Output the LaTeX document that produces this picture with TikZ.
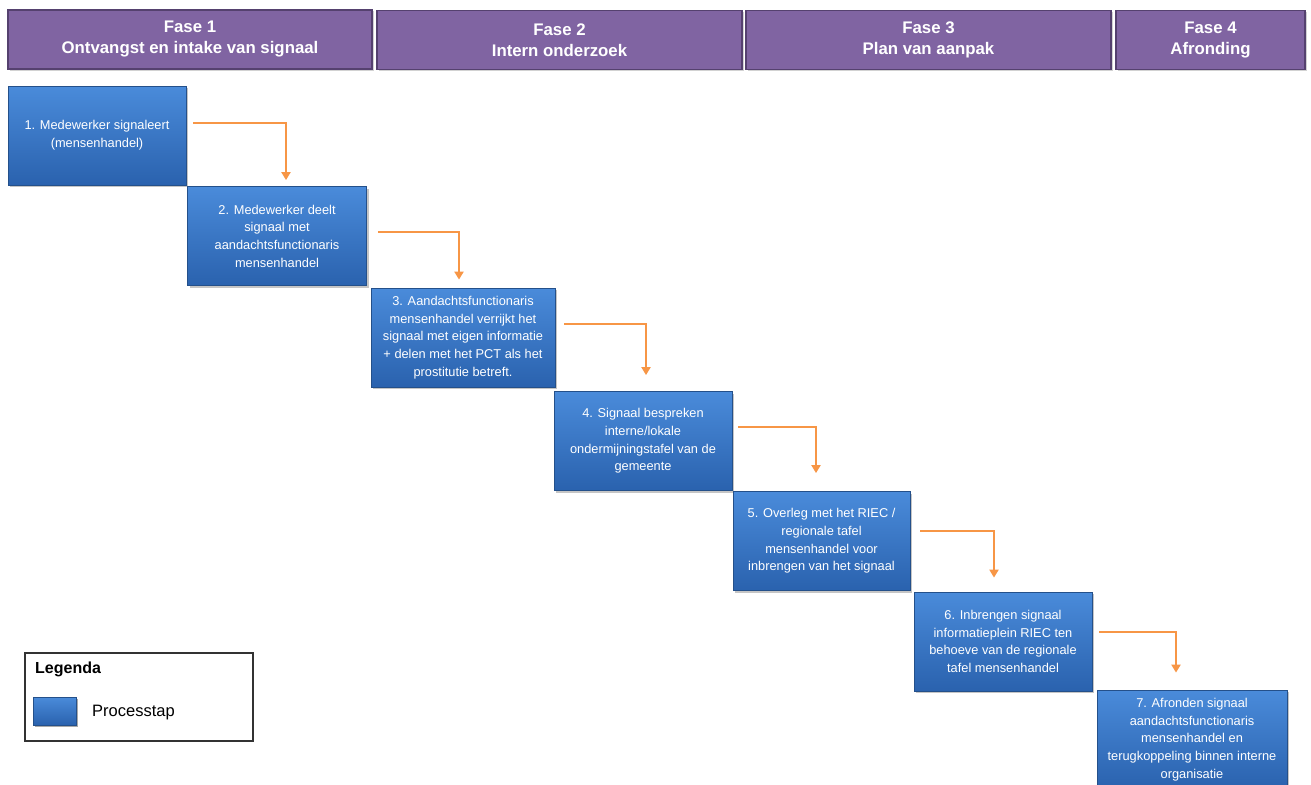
\documentclass[tikz,border=0pt]{standalone}
\usepackage{fontspec}
\setmainfont{Liberation Sans}
\usetikzlibrary{shadows,calc,arrows.meta}
\definecolor{fasefill}{HTML}{8064A2}
\definecolor{faseline}{HTML}{55416F}
\definecolor{proctop}{HTML}{4A8BDA}
\definecolor{procbot}{HTML}{2A62AE}
\definecolor{procline}{HTML}{24508A}
\definecolor{flowc}{HTML}{F79646}
\definecolor{legline}{HTML}{333333}
\begin{document}
\begin{tikzpicture}[x=1pt,y=-1pt,
  fase/.style={draw=faseline, line width=1.3pt, fill=fasefill, text=white,
    font=\bfseries\fontsize{16.8}{21}\selectfont, align=center, inner sep=0pt,
    minimum height=59pt,
    drop shadow={shadow xshift=1.5pt, shadow yshift=-1.5pt, opacity=0.35}},
  proc/.style={draw=procline, line width=0.8pt, top color=proctop, bottom color=procbot,
    text=white, font=\fontsize{12.8}{17.7}\selectfont, align=center, inner sep=0pt,
    minimum height=99pt,
    drop shadow={shadow xshift=2pt, shadow yshift=-2pt, opacity=0.45}},
  flow/.style={draw=flowc, line width=2.2pt, -{Triangle[length=8pt,width=9pt]}},
  legbox/.style={draw=legline, line width=1.3pt, fill=white, inner sep=0pt},
  legtext/.style={font=\fontsize{16.5}{19}\selectfont, anchor=west, inner sep=0pt}
]
\useasboundingbox[fill=white] (0,0) rectangle (1311,784);

% phase headers
\node[fase, minimum width=364pt] (f1) at (190,39.5) {Fase 1\\Ontvangst en intake van signaal};
\node[fase, minimum width=365pt] (f2) at (559.5,40) {Fase 2\\Intern onderzoek};
\node[fase, minimum width=365pt] (f3) at (928.5,40) {Fase 3\\Plan van aanpak};
\node[fase, minimum width=189pt] (f4) at (1210.5,40) {Fase 4\\Afronding};

% process steps
\node[proc, minimum width=178pt] (b1) at (97,135.5) {1. Medewerker signaleert\\(mensenhandel)};
\node[proc, minimum width=179pt] (b2) at (277,236) {2. Medewerker deelt\\signaal met\\aandachtsfunctionaris\\mensenhandel};
\node[proc, minimum width=184pt] (b3) at (463,337.5) {3. Aandachtsfunctionaris\\mensenhandel verrijkt het\\signaal met eigen informatie\\+ delen met het PCT als het\\prostitutie betreft.};
\node[proc, minimum width=178pt] (b4) at (643,441) {4. Signaal bespreken\\interne/lokale\\ondermijningstafel van de\\gemeente};
\node[proc, minimum width=177pt] (b5) at (821.5,541) {5. Overleg met het RIEC /\\regionale tafel\\mensenhandel voor\\inbrengen van het signaal};
\node[proc, minimum width=178pt] (b6) at (1003,641.5) {6. Inbrengen signaal\\informatieplein RIEC ten\\behoeve van de regionale\\tafel mensenhandel};
\node[proc, minimum width=190pt] (b7) at (1192,739.5) {7. Afronden signaal\\aandachtsfunctionaris\\mensenhandel en\\terugkoppeling binnen interne\\organisatie};

% connectors
\draw[flow] ($(b1.north east)+(7,37)$) -| ($(b2.north)+(9,-6)$);
\draw[flow] ($(b2.north east)+(11,46)$) -| ($(b3.north)+(-4,-8)$);
\draw[flow] ($(b3.north east)+(9,36)$) -| ($(b4.north)+(3,-16)$);
\draw[flow] ($(b4.north east)+(6,36)$) -| ($(b5.north)+(-5.5,-18)$);
\draw[flow] ($(b5.north east)+(10,40)$) -| ($(b6.north)+(-9,-14)$);
\draw[flow] ($(b6.north east)+(7,40)$) -| ($(b7.north)+(-16,-17)$);

% legend
\node[legbox, minimum width=228pt, minimum height=88pt] (leg) at (139,697) {};
\node[legtext, font=\bfseries\fontsize{16}{19}\selectfont] (legtitle) at (35,669) {Legenda};
\node[proc, minimum width=43pt, minimum height=28pt, line width=0.5pt,
  drop shadow={shadow xshift=1.5pt, shadow yshift=-1.5pt, opacity=0.4}] (legproc) at (54.5,711) {};
\node[legtext] (leglabel) at (92,713) {Processtap};
\end{tikzpicture}
\end{document}
